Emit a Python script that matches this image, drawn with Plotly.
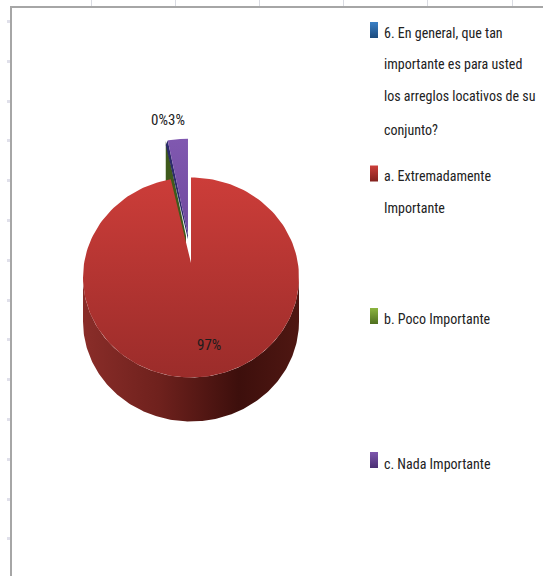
import math
import plotly.graph_objects as go

# Survey results
categories = ["a. Extremadamente Importante", "b. Poco Importante", "c. Nada Importante"]
shares = [97, 0, 3]
legend_title = "6. En general, que tan importante es para usted los arreglos locativos de su conjunto?"

# Wrapped legend text: (x, y, text)
legend_lines = [
    (384, 33, "6. En general, que tan"),
    (384, 64, "importante es para usted"),
    (384, 96, "los arreglos locativos de su"),
    (384, 130, "conjunto?"),
    (384, 176, "a. Extremadamente"),
    (384, 208, "Importante"),
    (384, 319, "b. Poco Importante"),
    (384, 464, "c. Nada Importante"),
]
# Legend keys: (centre y, top colour, bottom colour)
legend_keys = [(30, "#3a80c6", "#1c4a7c"), (173.5, "#cc3f3a", "#82211e"),
               (316, "#8cb53f", "#4f6f1f"), (460, "#7e57ad", "#4a2f72")]

# Pie geometry in screen-sized axis units
CX, CY, RX, RY = 191, 277.5, 108, 100
APEX_Y = 263
APEX_SINK = 11
DEPTH = 44
EXPLODE = 39
FONT = "Roboto Condensed, Liberation Sans, sans-serif"


def rim(deg, dx=0, dy=0):
    a = math.radians(deg)
    return CX + RX * math.sin(a) + dx, CY - RY * math.cos(a) + dy


def arc(a0, a1, dx=0, dy=0, n=180):
    pts = [rim(a0 + (a1 - a0) * i / n, dx, dy) for i in range(n + 1)]
    return [p[0] for p in pts], [p[1] for p in pts]


def offset(mid_deg):
    a = math.radians(mid_deg)
    return 0.55 * EXPLODE * math.sin(a) - 1, -EXPLODE * math.cos(a)


def wedge(a0, a1, dx=0, dy=0, sink=0):
    xs, ys = arc(a0, a1, dx, dy)
    return [CX + dx] + xs + [CX + dx], [APEX_Y + dy + sink] + ys + [APEX_Y + dy + sink]


def wall(deg, top_off, bottom_off, apex_off, depth):
    # Cut face running from the rim to the apex; its rim end may span two slice offsets
    tx, ty = rim(deg, *top_off)
    bx, by = rim(deg, *bottom_off)
    ax, ay = CX + apex_off[0], APEX_Y + apex_off[1] + APEX_SINK
    return [tx, ax, ax, bx, tx], [ty, ay, ay + depth, by + depth, ty]


red_end = 360 * shares[0] / 100
green_end = red_end + 360 * shares[1] / 100
purple_end = green_end + 360 * shares[2] / 100

fig = go.Figure()


def add_poly(xs, ys, color=None, gradient=None):
    fig.add_trace(go.Scatter(
        x=xs, y=ys, mode="lines", line=dict(width=0), fill="toself",
        fillcolor=color, fillgradient=gradient, hoverinfo="skip", showlegend=False,
    ))


# Cut faces of the pulled-out slices, then the purple slice top
green_off = offset(red_end)
wx, wy = wall(red_end, green_off, green_off, green_off, DEPTH)
add_poly(wx, wy, color="#3f5a1c")

purple_off = offset((green_end + purple_end) / 2)
wx, wy = wall(green_end, purple_off, green_off, purple_off, 4)
add_poly(wx, wy, color="#2c2a6a")
wx, wy = wedge(green_end, purple_end, *purple_off, APEX_SINK)
add_poly(wx, wy, gradient=dict(type="vertical", colorscale=[[0, "#6f4a9e"], [1, "#8058b0"]]))

# Outer wall of the main slice
tx, ty = arc(90, 270)
bx, by = arc(270, 90, 0, DEPTH)
add_poly(tx + bx, ty + by, gradient=dict(
    type="horizontal",
    colorscale=[[0, "#8a2d29"], [0.35, "#6f211d"], [0.72, "#3d0f0c"], [1, "#4f1712"]],
))

# Top of the main slice
wx, wy = wedge(0, red_end)
add_poly(wx, wy, gradient=dict(type="vertical", colorscale=[[0, "#9b2c2a"], [1, "#cc3d39"]]))

# Legend keys
for y, top, bottom in legend_keys:
    add_poly([370, 378, 378, 370, 370], [y - 8, y - 8, y + 8, y + 8, y - 8],
             gradient=dict(type="vertical", colorscale=[[0, bottom], [1, top]]))

# Percentage labels and legend text
label_pos = [(209, 345), (159.5, 120), (176.5, 120)]
for share, (x, y) in zip(shares, label_pos):
    fig.add_annotation(x=x, y=y, text=f"{share}%", showarrow=False,
                       font=dict(family=FONT, size=15, color="#1c1c1c"))
for x, y, text in legend_lines:
    fig.add_annotation(x=x, y=y, text=text, showarrow=False, xanchor="left", xshift=-2,
                       font=dict(family=FONT, size=14, color="#222222"))

axis_line = dict(showgrid=False, zeroline=False, showticklabels=False, ticks="outside",
                 showline=True, linecolor="#a6a6a6", linewidth=2)
fig.update_layout(
    width=543, height=576, margin=dict(l=12, r=0, t=8, b=0),
    paper_bgcolor="white", plot_bgcolor="white", showlegend=False,
    xaxis=dict(range=[12, 543], side="top", tick0=91, dtick=84.2, ticklen=7, tickwidth=1,
               tickcolor="#d9dbe2", **axis_line),
    yaxis=dict(range=[576, 8], tick0=21.5, dtick=39.8, ticklen=3, tickwidth=3,
               tickcolor="#e0e0ea", **axis_line),
)
fig.write_html("out.html", config={"displayModeBar": False})
